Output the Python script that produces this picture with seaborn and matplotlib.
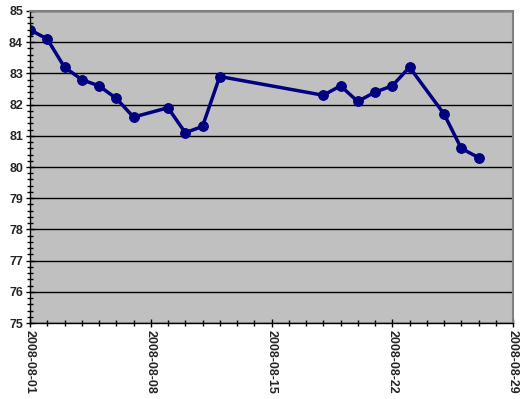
import matplotlib
matplotlib.use("Agg")
import matplotlib.pyplot as plt
import matplotlib.dates as mdates
import seaborn as sns
import pandas as pd
from matplotlib.ticker import MultipleLocator

dates = ["2008-08-01", "2008-08-02", "2008-08-03", "2008-08-04", "2008-08-05",
         "2008-08-06", "2008-08-07", "2008-08-09", "2008-08-10", "2008-08-11",
         "2008-08-12", "2008-08-18", "2008-08-19", "2008-08-20", "2008-08-21",
         "2008-08-22", "2008-08-23", "2008-08-25", "2008-08-26", "2008-08-27"]
values = [84.4, 84.1, 83.2, 82.8, 82.6, 82.2, 81.6, 81.9, 81.1, 81.3,
          82.9, 82.3, 82.6, 82.1, 82.4, 82.6, 83.2, 81.7, 80.6, 80.3]
tick_dates = ["2008-08-01", "2008-08-08", "2008-08-15", "2008-08-22", "2008-08-29"]

df = pd.DataFrame({"date": pd.to_datetime(dates), "value": values})

sns.set_style("white")
plt.rcParams["font.family"] = ["Liberation Sans", "DejaVu Sans"]

fig = plt.figure(figsize=(5.2, 3.99), dpi=100)
ax = fig.add_axes([30/520, 1-323/399, (513-30)/520, (323-11)/399])
ax.set_facecolor("#C0C0C0")

sns.lineplot(data=df, x="date", y="value", ax=ax, color="#000080",
             linewidth=2.5, marker="o", markersize=7, markeredgecolor="#000080",
             markerfacecolor="#000080")

ax.set_xlim(pd.Timestamp("2008-08-01"), pd.Timestamp("2008-08-29"))
ax.set_ylim(75, 85)
ax.yaxis.set_major_locator(MultipleLocator(1))
ax.yaxis.set_minor_locator(MultipleLocator(0.2))
ticks = pd.to_datetime(tick_dates)
ax.set_xticks(ticks)
ax.set_xticklabels(tick_dates, rotation=-90, fontsize=9, fontweight="bold")
ax.xaxis.set_minor_locator(mdates.DayLocator())
ax.grid(axis="y", which="major", color="black", linewidth=1)
ax.set_axisbelow(True)
for lab in ax.get_yticklabels():
    lab.set_fontweight("bold")
    lab.set_fontsize(9)
ax.tick_params(axis="both", which="major", direction="inout", length=6, width=1,
               color="black", pad=2, bottom=True, left=True)
ax.tick_params(axis="both", which="minor", direction="inout", length=4, width=1,
               color="black", bottom=True, left=True)
ax.set_xlabel("")
ax.set_ylabel("")
for s in ["left", "bottom"]:
    ax.spines[s].set_color("black")
    ax.spines[s].set_linewidth(1)
for s in ["top", "right"]:
    ax.spines[s].set_color("#808080")
    ax.spines[s].set_linewidth(1.5)

fig.savefig("out.png", dpi=100)
